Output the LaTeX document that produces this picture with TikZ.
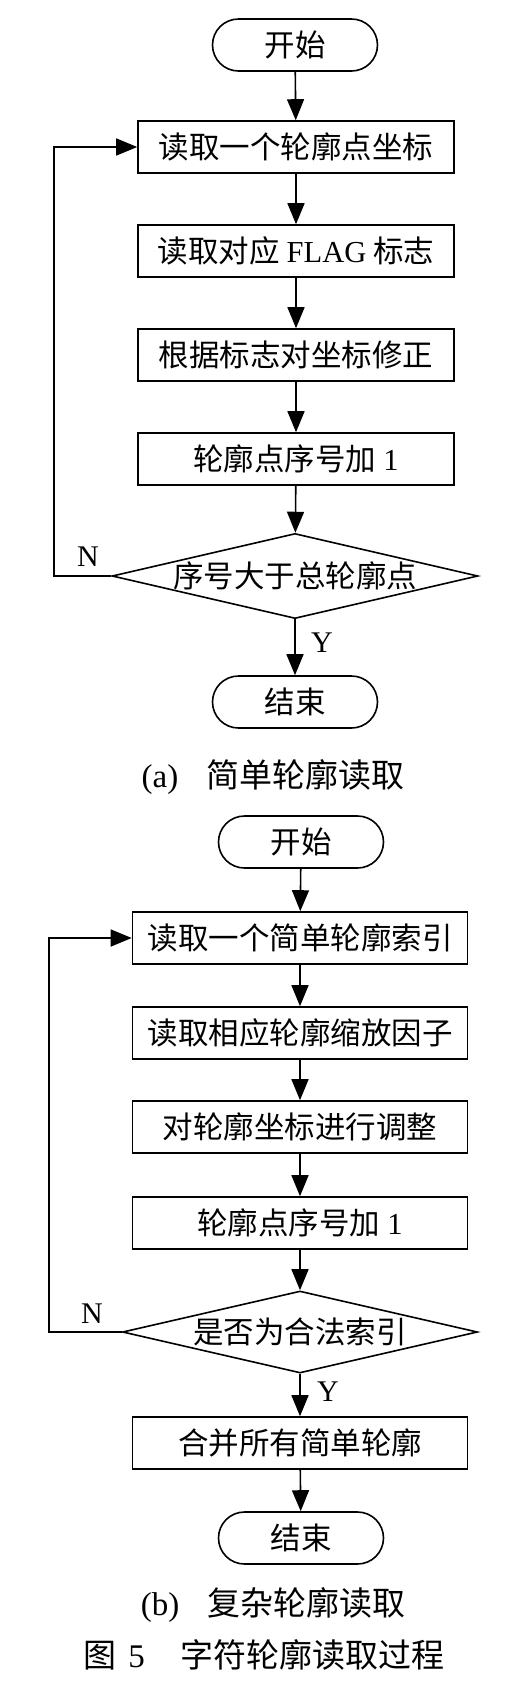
\documentclass[tikz,border=0pt]{standalone}
\usepackage{fontspec}
\setmainfont{Liberation Serif}
\newfontfamily\cjk{Noto Sans CJK SC}
\usetikzlibrary{shapes.geometric,arrows.meta}

\begin{document}
\begin{tikzpicture}[x=1pt, y=-1pt, >={Triangle[length=21pt,width=17pt]},
    every node/.style={font=\cjk\fontsize{30.5}{33}\selectfont},
    term/.style={draw, line width=1.6pt, rounded corners=26pt,
      minimum width=165pt, minimum height=52pt, inner sep=0pt},
    proc/.style={draw, line width=1.6pt, minimum height=52pt, inner sep=0pt},
    cond/.style={draw, line width=1.6pt, diamond, aspect=4.3,
      minimum width=355pt, minimum height=82pt, inner sep=0pt},
    lab/.style={font=\rmfamily\fontsize{30}{33}\selectfont},
    capt/.style={font=\cjk\fontsize{33}{36}\selectfont},
    flow/.style={line width=1.6pt, ->}]
  \useasboundingbox (0,0) rectangle (522,1698);

  % (a) simple contour
  \node[term] (start-a) at (295,45) {开始};
  \node[proc, minimum width=316pt] (read-a) at (296,147) {读取一个轮廓点坐标};
  \node[proc, minimum width=316pt] (flag-a) at (296,251) {读取对应 {\rmfamily FLAG} 标志};
  \node[proc, minimum width=316pt] (fix-a) at (296,355) {根据标志对坐标修正};
  \node[proc, minimum width=316pt] (inc-a) at (296,459) {轮廓点序号加 {\rmfamily 1}};
  \node[cond] (test-a) at (295,576) {序号大于总轮廓点};
  \node[term] (stop-a) at (295,702) {结束};
  \node[lab] (n-a) at (88,557) {N};
  \node[lab] (y-a) at (322,643) {Y};
  \node[capt] (cap-a) at (273,777) {{\rmfamily (a)}\hspace{28pt}简单轮廓读取};

  \draw[flow] (start-a) -- (read-a);
  \draw[flow] (read-a) -- (flag-a);
  \draw[flow] (flag-a) -- (fix-a);
  \draw[flow] (fix-a) -- (inc-a);
  \draw[flow] (inc-a) -- (test-a);
  \draw[flow] (test-a) -- (stop-a);
  \draw[flow] (test-a.west) -- (54,576) -- (54,147) -- (read-a.west);

  % (b) complex contour
  \node[term] (start-b) at (301,842) {开始};
  \node[proc, minimum width=335pt] (read-b) at (300,938) {读取一个简单轮廓索引};
  \node[proc, minimum width=335pt] (scale-b) at (300,1033) {读取相应轮廓缩放因子};
  \node[proc, minimum width=335pt] (adj-b) at (300,1127) {对轮廓坐标进行调整};
  \node[proc, minimum width=335pt] (inc-b) at (300,1223) {轮廓点序号加 {\rmfamily 1}};
  \node[cond] (test-b) at (300,1332) {是否为合法索引};
  \node[proc, minimum width=335pt] (merge-b) at (300,1443) {合并所有简单轮廓};
  \node[term] (stop-b) at (301,1538) {结束};
  \node[lab] (n-b) at (92,1314) {N};
  \node[lab] (y-b) at (328,1392) {Y};
  \node[capt] (cap-b) at (273,1605) {{\rmfamily (b)}\hspace{28pt}复杂轮廓读取};
  \node[capt] (fig) at (264,1655) {图\hspace{12pt}{\rmfamily 5}\hspace{36pt}字符轮廓读取过程};

  \draw[flow] (start-b) -- (read-b);
  \draw[flow] (read-b) -- (scale-b);
  \draw[flow] (scale-b) -- (adj-b);
  \draw[flow] (adj-b) -- (inc-b);
  \draw[flow] (inc-b) -- (test-b);
  \draw[flow] (test-b) -- (merge-b);
  \draw[flow] (merge-b) -- (stop-b);
  \draw[flow] (test-b.west) -- (49,1332) -- (49,938) -- (read-b.west);
\end{tikzpicture}
\end{document}
